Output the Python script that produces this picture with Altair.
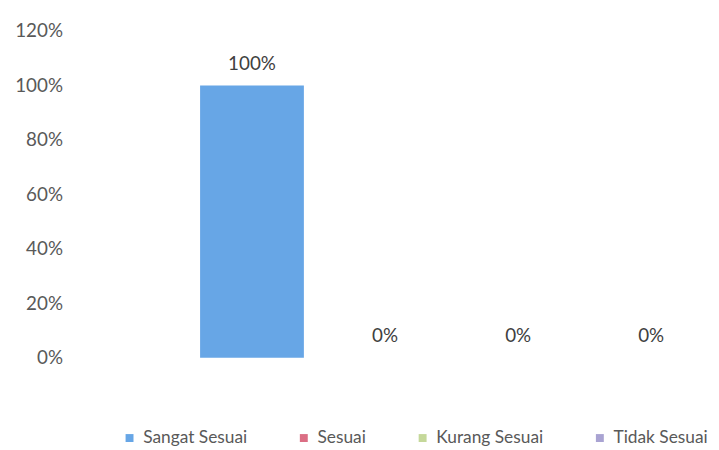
import altair as alt
import pandas as pd

categories = ["Sangat Sesuai", "Sesuai", "Kurang Sesuai", "Tidak Sesuai"]
values = [100, 0, 0, 0]
value_labels = ["100%", "0%", "0%", "0%"]
colors = ["#67A6E6", "#DB6E84", "#C5D89A", "#A9A3D2"]
y_ticks = [0, 20, 40, 60, 80, 100, 120]

df = pd.DataFrame({"kategori": categories, "nilai": values, "label": value_labels})

FONT = "Lato"

x = alt.X(
    "kategori:N",
    sort=categories,
    scale=alt.Scale(paddingInner=0.22, paddingOuter=0),
    axis=None,
)
y = alt.Y(
    "nilai:Q",
    scale=alt.Scale(domain=[0, 120], nice=False),
    axis=alt.Axis(
        values=y_ticks,
        labelExpr="datum.value + '%'",
        ticks=False,
        domain=False,
        grid=False,
        labelFontSize=19,
        labelColor="#595959",
        labelFont=FONT,
        labelPadding=139,
        title=None,
    ),
)

bars = alt.Chart(df).mark_bar().encode(
    x=x,
    y=y,
    color=alt.Color(
        "kategori:N",
        sort=categories,
        scale=alt.Scale(domain=categories, range=colors),
        legend=alt.Legend(
            orient="none",
            legendX=-80,
            legendY=402,
            direction="horizontal",
            title=None,
            symbolType="square",
            symbolSize=64,
            symbolStrokeWidth=0,
            labelFontSize=17.5,
            labelFont=FONT,
            labelColor="#595959",
            columnPadding=48,
            labelOffset=5,
        ),
    ),
)

texts = alt.Chart(df).mark_text(
    dy=-22, fontSize=19, font=FONT, color="#404040", baseline="middle"
).encode(x=x, y=y, text="label:N")

chart = (
    alt.layer(bars, texts)
    .properties(
        width=508,
        height=330,
        autosize=alt.AutoSizeParams(type="none"),
        padding={"left": 194, "top": 21, "right": 8, "bottom": 90},
    )
    .configure_view(stroke=None)
)

chart.save("out.html", embed_options={"renderer": "svg", "actions": False})
